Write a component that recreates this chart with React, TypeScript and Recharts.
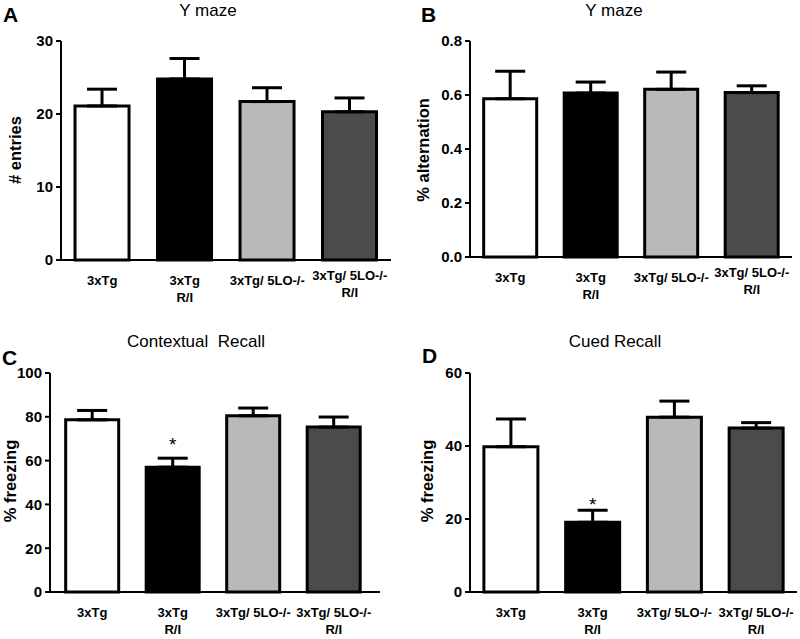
import { BarChart, Bar, XAxis, YAxis, ErrorBar, Cell, LabelList } from 'recharts';

// groups shared by all four panels
const groups = ['3xTg', '3xTg\nR/I', '3xTg/ 5LO-/-', '3xTg/ 5LO-/-\nR/I'];
const fills = ['#ffffff', '#000000', '#b9b9b9', '#4b4b4b'];

// A: Y maze, # entries
const entriesMean = [21.1, 24.8, 21.7, 20.3];
const entriesSem = [2.3, 2.8, 1.9, 1.9];
const entriesTicks = [0, 10, 20, 30];

// B: Y maze, % alternation
const altMean = [0.586, 0.607, 0.621, 0.609];
const altSem = [0.102, 0.041, 0.064, 0.025];
const altTicks = [0, 0.2, 0.4, 0.6, 0.8];

// C: contextual recall, % freezing
const ctxMean = [78.6, 57.0, 80.5, 75.3];
const ctxSem = [4.3, 4.1, 3.5, 4.6];
const ctxSig = ['', '*', '', ''];
const ctxTicks = [0, 20, 40, 60, 80, 100];

// D: cued recall, % freezing
const cuedMean = [39.8, 19.1, 47.9, 44.9];
const cuedSem = [7.6, 3.3, 4.4, 1.5];
const cuedSig = ['', '*', '', ''];
const cuedTicks = [0, 20, 40, 60];

const FONT = '"Liberation Sans", Arial, Helvetica, sans-serif';

const buildRows = (means: number[], sems: number[], sig?: string[]) =>
  groups.map((g, i) => ({ name: g, value: means[i], err: [0, sems[i]], sem: sems[i], sig: sig ? sig[i] : '' }));

const GroupTick = (props: any) => {
  const { x, y, payload, index, liftLast } = props;
  const lines = String(payload.value).split('\n');
  const lift = liftLast && index === groups.length - 1 ? 5 : 0;
  return (
    <text x={x} y={y - lift} textAnchor="middle" fontFamily={FONT} fontWeight="bold" fontSize={13} fill="#000">
      {lines.map((l, i) => (
        <tspan key={i} x={x} dy={17}>{l}</tspan>
      ))}
    </text>
  );
};

const makeStar = (rows: any[], gap: number) => (props: any) => {
  const { value, index } = props;
  if (!value) return null;
  const vb = props.viewBox ?? props;
  const x = vb.x ?? props.x;
  const y = vb.y ?? props.y;
  const w = vb.width ?? props.width;
  const h = Math.abs(vb.height ?? props.height);
  const pxPerUnit = h / rows[index].value;
  const capY = y - rows[index].sem * pxPerUnit;
  return (
    <text x={x + w / 2} y={capY - gap} textAnchor="middle" fontFamily={FONT} fontSize={19} fill="#000">
      {value}
    </text>
  );
};

interface PanelProps {
  width: number;
  height: number;
  rows: any[];
  ticks: number[];
  yWidth: number;
  margin: { top: number; right: number; left: number; bottom: number };
  xHeight: number;
  pad?: { left: number; right: number };
  fmt?: (v: number) => string;
  liftLast?: boolean;
  starGap?: number;
}

function Panel({ width, height, rows, ticks, yWidth, margin, xHeight, pad, fmt, liftLast, starGap }: PanelProps) {
  return (
    <BarChart width={width} height={height} data={rows} margin={margin} barCategoryGap="17%">
      <XAxis
        dataKey="name"
        height={xHeight}
        interval={0}
        tickLine={false}
        axisLine={{ stroke: '#000', strokeWidth: 2 }}
        padding={pad ?? { left: 0, right: 0 }}
        tick={<GroupTick liftLast={liftLast} />}
      />
      <YAxis
        width={yWidth}
        domain={[ticks[0], ticks[ticks.length - 1]]}
        ticks={ticks}
        interval={0}
        tickFormatter={fmt}
        tickSize={5}
        tickMargin={3}
        axisLine={{ stroke: '#000', strokeWidth: 2 }}
        tickLine={{ stroke: '#000', strokeWidth: 2 }}
        tick={{ fill: '#000', fontSize: 15, fontWeight: 'bold', fontFamily: FONT }}
      />
      <Bar dataKey="value" stroke="#000" strokeWidth={3} isAnimationActive={false}>
        {rows.map((_, i) => (
          <Cell key={i} fill={fills[i]} />
        ))}
        <ErrorBar dataKey="err" direction="y" width={15} stroke="#000" strokeWidth={3} isAnimationActive={false} />
        {starGap !== undefined && <LabelList dataKey="sig" content={makeStar(rows, starGap)} />}
      </Bar>
    </BarChart>
  );
}

const abs = (left: number, top: number): React.CSSProperties => ({ position: 'absolute', left, top });

const Title = ({ x, y, children }: { x: number; y: number; children: string }) => (
  <div style={{ ...abs(x, y), transform: 'translate(-50%, -50%)', fontSize: 17, whiteSpace: 'pre', color: '#000' }}>{children}</div>
);

const Letter = ({ x, y, children }: { x: number; y: number; children: string }) => (
  <div style={{ ...abs(x, y), fontSize: 21, fontWeight: 'bold', lineHeight: 1, color: '#000' }}>{children}</div>
);

const YLabel = ({ x, y, children }: { x: number; y: number; children: string }) => (
  <div
    style={{
      ...abs(x, y),
      transform: 'translate(-50%, -50%) rotate(-90deg)',
      fontSize: 16.5,
      fontWeight: 'bold',
      lineHeight: 1,
      whiteSpace: 'nowrap',
      color: '#000',
    }}
  >
    {children}
  </div>
);

export default function App() {
  const entriesRows = buildRows(entriesMean, entriesSem);
  const altRows = buildRows(altMean, altSem);
  const ctxRows = buildRows(ctxMean, ctxSem, ctxSig);
  const cuedRows = buildRows(cuedMean, cuedSem, cuedSig);

  return (
    <div style={{ position: 'absolute', left: 0, top: 0, width: 800, height: 639, background: '#fff', fontFamily: FONT, overflow: 'hidden' }}>
      <div style={abs(0, 0)}>
        <Panel width={400} height={320} rows={entriesRows} ticks={entriesTicks} yWidth={61} xHeight={60}
          margin={{ top: 41, right: 9, left: 0, bottom: 0 }} liftLast />
      </div>
      <div style={abs(400, 0)}>
        <Panel width={400} height={320} rows={altRows} ticks={altTicks} yWidth={70} xHeight={63}
          margin={{ top: 41, right: 8, left: 0, bottom: 0 }} fmt={(v) => v.toFixed(1)} liftLast />
      </div>
      <div style={abs(0, 320)}>
        <Panel width={400} height={319} rows={ctxRows} ticks={ctxTicks} yWidth={50} xHeight={47}
          margin={{ top: 53, right: 20, left: 0, bottom: 0 }} pad={{ left: 2, right: 6 }} starGap={7} />
      </div>
      <div style={abs(400, 320)}>
        <Panel width={400} height={319} rows={cuedRows} ticks={cuedTicks} yWidth={70} xHeight={47}
          margin={{ top: 53, right: 3, left: 0, bottom: 0 }} starGap={-1} />
      </div>

      <Letter x={3} y={4}>A</Letter>
      <Letter x={421} y={4}>B</Letter>
      <Letter x={2} y={347}>C</Letter>
      <Letter x={422} y={345}>D</Letter>

      <Title x={208} y={11}>Y maze</Title>
      <Title x={614} y={11}>Y maze</Title>
      <Title x={196} y={342}>Contextual  Recall</Title>
      <Title x={615} y={342}>Cued Recall</Title>

      <YLabel x={15} y={150}>{'# entries'}</YLabel>
      <YLabel x={423} y={150}>{'% alternation'}</YLabel>
      <YLabel x={10} y={481}>{'% freezing'}</YLabel>
      <YLabel x={427} y={481}>{'% freezing'}</YLabel>
    </div>
  );
}
